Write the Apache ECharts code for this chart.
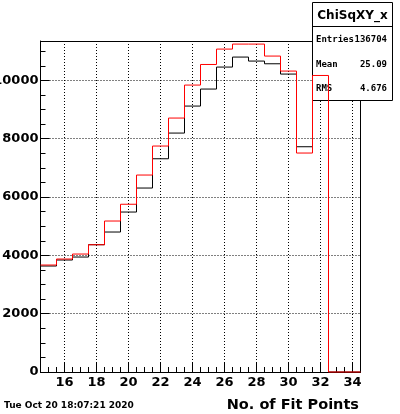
<!DOCTYPE html>
<html><head><meta charset="utf-8">
<script src="https://cdn.jsdelivr.net/npm/echarts@6/dist/echarts.min.js"></script>
<style>html,body{margin:0;padding:0;background:#fff;}#c{width:400px;height:414px;}</style>
</head><body><div id="c"></div>
<script>
const binCenters = [15,16,17,18,19,20,21,22,23,24,25,26,27,28,29,30,31,32,33,34];
const blackCounts = [3634,3840,3942,4364,4800,5485,6308,7312,8193,9119,9702,10456,10799,10662,10569,10216,7724,10300,0,0];
const redCounts = [3668,3874,4045,4364,5177,5752,6754,7748,8708,9839,10545,11073,11244,11244,10833,10319,7508,10168,0,0];
const xTickLabels = [16,18,20,22,24,26,28,30,32,34];
const yTickLabels = [0,2000,4000,6000,8000,10000];
const xRange = [14.5, 34.5];
const yRange = [0, 11350];
const statsTitle = 'ChiSqXY_x';
const statsNames = ['Entries','Mean','RMS'];
const statsValues = ['136704','25.09','4.676'];
const xTitle = 'No. of Fit Points';
const dateText = 'Tue Oct 20 18:07:21 2020';

function stepData(counts) {
  const d = binCenters.map((c, i) => [c - 0.5, counts[i]]);
  d.push([binCenters[binCenters.length - 1] + 0.5, counts[counts.length - 1]]);
  return d;
}

const FONT = '"DejaVu Sans", sans-serif';
const MONO = '"DejaVu Sans Mono", monospace';
const chart = echarts.init(document.getElementById('c'), null, {renderer: 'canvas'});

const statsY = [40, 64.5, 89];
const statsGraphics = [];
statsNames.forEach((n, i) => {
  statsGraphics.push({type: 'text', z: 11, x: 316, y: statsY[i],
    style: {text: n, fontFamily: MONO, fontWeight: 'bold', fontSize: 9, align: 'left', verticalAlign: 'middle', fill: '#000'}});
  statsGraphics.push({type: 'text', z: 11, x: 387, y: statsY[i],
    style: {text: statsValues[i], fontFamily: MONO, fontWeight: 'bold', fontSize: 9, align: 'right', verticalAlign: 'middle', fill: '#000'}});
});

const plain = v => String(v);

chart.setOption({
  animation: false,
  backgroundColor: '#fff',
  grid: {left: 40.5, right: 39.5, top: 41, bottom: 42, containLabel: false, outerBoundsMode: 'none'},
  xAxis: [
    {type: 'value', min: xRange[0], max: xRange[1], interval: 0.5, position: 'bottom',
     axisLine: {show: true, onZero: false, lineStyle: {color: '#000', width: 1}},
     axisTick: {show: true, inside: true, length: 5, lineStyle: {color: '#000', width: 1}},
     axisLabel: {show: false}, splitLine: {show: false}},
    {type: 'value', min: xRange[0], max: xRange[1], position: 'bottom',
     axisLine: {show: false, onZero: false},
     axisTick: {show: true, inside: true, length: 9, customValues: xTickLabels, lineStyle: {color: '#000', width: 1}},
     axisLabel: {show: true, customValues: xTickLabels, formatter: plain, margin: 4, fontFamily: FONT, fontWeight: 'bold', fontSize: 13, color: '#000'},
     splitLine: {show: true, lineStyle: {color: '#000', width: 1, type: [1, 2]}}},
    {type: 'value', min: xRange[0], max: xRange[1], position: 'top',
     axisLine: {show: true, onZero: false, lineStyle: {color: '#000', width: 1}},
     axisTick: {show: false}, axisLabel: {show: false}, splitLine: {show: false}}
  ],
  yAxis: [
    {type: 'value', min: yRange[0], max: yRange[1], interval: 500, position: 'left',
     axisLine: {show: true, onZero: false, lineStyle: {color: '#000', width: 1}},
     axisTick: {show: true, inside: true, length: 5, lineStyle: {color: '#000', width: 1}},
     axisLabel: {show: false}, splitLine: {show: false}},
    {type: 'value', min: yRange[0], max: yRange[1], position: 'left',
     axisLine: {show: false, onZero: false},
     axisTick: {show: true, inside: true, length: 9, customValues: yTickLabels, lineStyle: {color: '#000', width: 1}},
     axisLabel: {show: true, customValues: yTickLabels, formatter: plain, margin: 2, fontFamily: FONT, fontWeight: 'bold', fontSize: 13, color: '#000'},
     splitLine: {show: true, lineStyle: {color: '#000', width: 1, type: [1, 2]}}},
    {type: 'value', min: yRange[0], max: yRange[1], position: 'right',
     axisLine: {show: true, onZero: false, lineStyle: {color: '#000', width: 1}},
     axisTick: {show: false}, axisLabel: {show: false}, splitLine: {show: false}}
  ],
  series: [
    {type: 'line', name: 'black', xAxisIndex: 0, yAxisIndex: 0, z: 2, step: 'end', symbol: 'none', clip: false,
     lineStyle: {color: '#000', width: 1}, data: stepData(blackCounts)},
    {type: 'line', name: 'red', xAxisIndex: 0, yAxisIndex: 0, z: 20, step: 'end', symbol: 'none', clip: false,
     lineStyle: {color: '#ff0000', width: 1}, data: stepData(redCounts)}
  ],
  graphic: [
    {type: 'rect', z: 10, shape: {x: 312.5, y: 2.5, width: 80, height: 98},
     style: {fill: '#fff', stroke: '#000', lineWidth: 1}},
    {type: 'line', z: 11, shape: {x1: 312.5, y1: 26.5, x2: 392.5, y2: 26.5},
     style: {stroke: '#000', lineWidth: 1}},
    {type: 'text', z: 11, x: 352.5, y: 16, style: {text: statsTitle, fontFamily: FONT, fontWeight: 'bold', fontSize: 12,
     align: 'center', verticalAlign: 'middle', fill: '#000'}},
    ...statsGraphics,
    {type: 'text', z: 11, x: 359, y: 405, style: {text: xTitle, fontFamily: FONT, fontWeight: 'bold', fontSize: 14.5,
     align: 'right', verticalAlign: 'middle', fill: '#000'}},
    {type: 'text', z: 11, x: 4, y: 405.5, style: {text: dateText, fontFamily: FONT, fontWeight: 'bold', fontSize: 9,
     align: 'left', verticalAlign: 'middle', fill: '#000'}}
  ]
});
</script></body></html>
